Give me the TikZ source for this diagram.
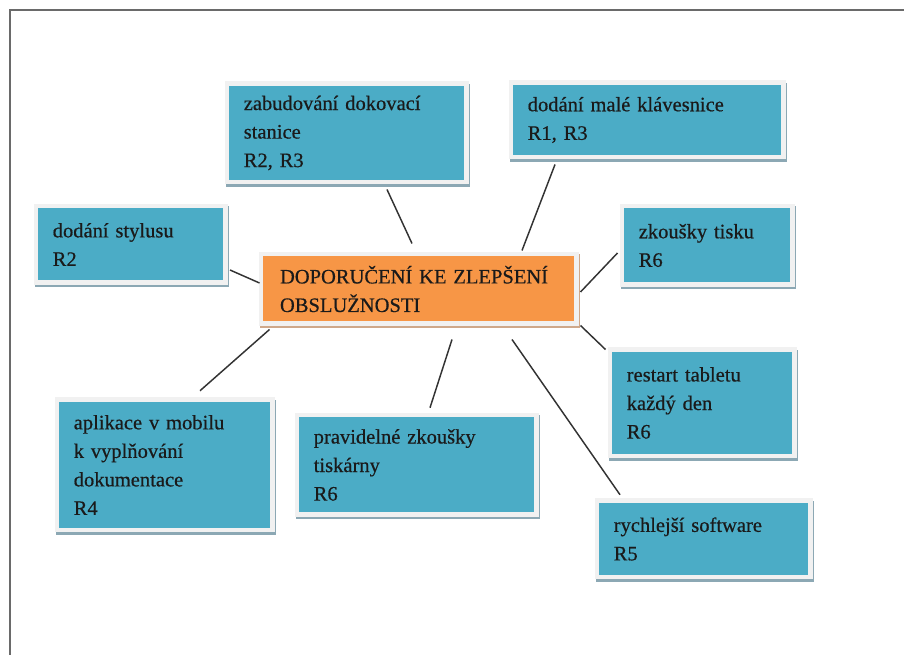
\documentclass[tikz,border=0pt]{standalone}
\usepackage{fontspec}
\setmainfont{Liberation Serif}
\newfontfamily\cardserif{Liberation Serif}[FakeBold=0.5]
\usetikzlibrary{calc,shadows}

\definecolor{cardteal}{HTML}{4BACC6}
\definecolor{cardorange}{HTML}{F79646}
\definecolor{cardframe}{HTML}{F1F1F1}
\definecolor{tealshade}{HTML}{8CA8B4}
\definecolor{orangeshade}{HTML}{CFA88A}
\definecolor{pageline}{HTML}{6A6A6A}
\definecolor{linkc}{HTML}{333333}
\definecolor{inkc}{HTML}{1A1A1A}

\newcommand\cardfont{\cardserif\fontsize{15.4pt}{21.4pt}\selectfont}

\tikzset{
  % card={width}{height}, sizes given in pixel units (1 unit = 0.75pt)
  card/.code 2 args={%
    \pgfmathsetlengthmacro\cardtw{(#1-34)*0.75pt}%
    \tikzset{minimum width=#1*0.75pt, minimum height=#2*0.75pt,
             text width/.expanded=\cardtw}},
  cardbase/.style={rectangle, draw=cardframe, line width=3.375pt,
    inner xsep=12.75pt, inner ysep=0pt, align=left, text=inkc, font=\cardfont},
  teal card/.style={cardbase, fill=cardteal,
    drop shadow={shadow xshift=1.2pt, shadow yshift=-1.8pt, fill=tealshade,
                 draw=tealshade, line width=3.375pt, opacity=1}},
  orange card/.style={cardbase, fill=cardorange,
    drop shadow={shadow xshift=1.2pt, shadow yshift=-1.8pt, fill=orangeshade,
                 draw=orangeshade, line width=3.375pt, opacity=1}},
  link/.style={draw=linkc, line width=1.1pt},
}

\begin{document}
\begin{tikzpicture}[x=0.75pt, y=-0.75pt]
  \useasboundingbox (0,0) rectangle (904,655);
  \fill[white] (0,0) rectangle (904,655);

  % page frame
  \draw[pageline, line width=1.5pt] (9.5,655) -- (9.5,10.5) -- (904,10.5);

  % central topic
  \node[orange card, card={315.5}{69.5}, text width=207.75pt, inner xsep=14.4pt]
    (main) at (418.5,289) {DOPORUČENÍ KE ZLEPŠENÍ\\OBSLUŽNOSTI};

  % recommendations
  \node[teal card, card={239.5}{98.5}] (dock) at (346.5,133)
    {zabudování dokovací\\stanice\\R2, R3};
  \node[teal card, card={272.5}{74.5}] (keyb) at (647,120)
    {dodání malé klávesnice\\R1, R3};
  \node[teal card, card={189.5}{76.5}] (stylus) at (130.5,244.5)
    {dodání stylusu\\R2};
  \node[teal card, card={170.5}{78.5}] (print) at (707,245.5)
    {zkoušky tisku\\R6};
  \node[teal card, card={184.5}{106.5}] (restart) at (702,403)
    {restart tabletu\\každý den\\R6};
  \node[teal card, card={215.5}{130.5}] (app) at (164.5,465)
    {aplikace v mobilu\\k vyplňování\\dokumentace\\R4};
  \node[teal card, card={239.5}{99.5}] (tisk) at (416.5,465)
    {pravidelné zkoušky\\tiskárny\\R6};
  \node[teal card, card={213.5}{76.5}] (fast) at (703.5,539)
    {rychlejší software\\R5};

  % connectors
  \draw[link] ($(stylus.east)+(2.5,25.5)$) -- ($(main.west)+(1,-6)$);
  \draw[link] ($(dock.south)+(40.5,5)$) -- ($(main.north)+(-6.5,-8.5)$);
  \draw[link] ($(keyb.south)+(-92,5)$) -- ($(main.north)+(103.5,-1.5)$);
  \draw[link] ($(print.west)+(-2,7.5)$) -- ($(main.east)+(2,3)$);
  \draw[link] ($(main.south east)+(2,-0.5)$) -- ($(restart.north west)+(-2,2)$);
  \draw[link] ($(main.south)+(93.5,13.5)$) -- ($(fast.north)+(-83.5,-3.75)$);
  \draw[link] ($(main.south)+(33.5,13.5)$) -- ($(tisk.north)+(13.5,-5.25)$);
  \draw[link] ($(main.south west)+(11,3.5)$) -- ($(app.north)+(35.5,-6.75)$);
\end{tikzpicture}
\end{document}
